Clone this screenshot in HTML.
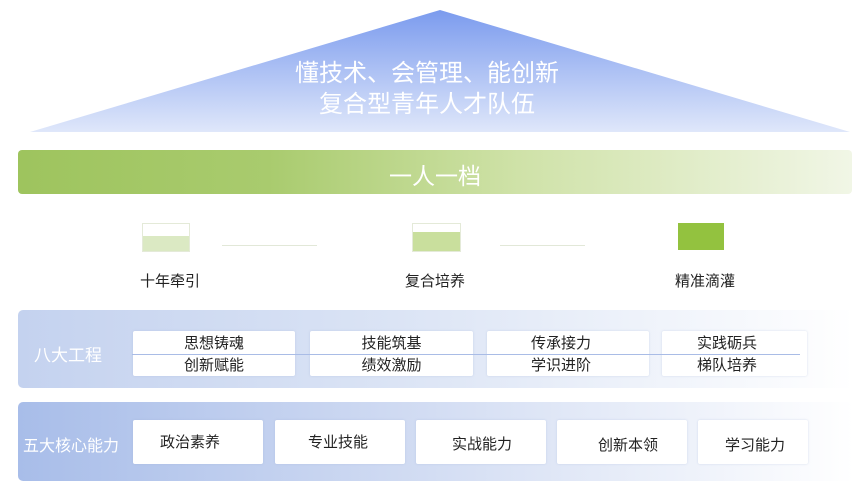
<!DOCTYPE html>
<html><head><meta charset="utf-8"><style>
body{margin:0;width:866px;height:492px;background:#fff;position:relative;overflow:hidden;font-family:"Liberation Sans","Noto Sans CJK SC",sans-serif}
.a{position:absolute}
.t{position:absolute;white-space:nowrap;text-align:center}
.box{position:absolute;background:#fff;border-radius:2px;box-shadow:0 0 2px rgba(150,170,210,.35)}
</style></head><body>
<svg class="a" style="left:0;top:0" width="866" height="140">
<defs><linearGradient id="g" x1="0" y1="0" x2="0" y2="1"><stop offset="0" stop-color="#7b9bee"/><stop offset="1" stop-color="#dfe7fa"/></linearGradient></defs>
<polygon points="440,10 850,132 30,132" fill="url(#g)"/>
</svg>
<div class="t" style="left:227px;width:400px;top:58px;font-size:24px;line-height:31px;color:#fff">懂技术、会管理、能创新<br>复合型青年人才队伍</div>
<div class="a" style="left:18px;top:150px;width:834px;height:44px;border-radius:4px;background:linear-gradient(90deg,#9ec45e 0%,#a9cb6e 30%,#cfe2a8 60%,#f1f6e6 100%)"></div>
<div class="t" style="left:18px;width:834px;top:157px;font-size:23px;color:#fff">一人一档</div>

<div class="a" style="left:142px;top:223px;width:46px;height:27px;background:linear-gradient(#fff 0,#fff 45%,#dbe9c3 45%);border:1px solid #e4ead8"></div>
<div class="a" style="left:412px;top:223px;width:47px;height:27px;background:linear-gradient(#fff 0,#fff 30%,#c9df9d 30%);border:1px solid #e4ead8"></div>
<div class="a" style="left:678px;top:223px;width:46px;height:27px;background:#93c23f"></div>
<div class="a" style="left:222px;top:245px;width:95px;height:1px;background:#e2e8d8"></div>
<div class="a" style="left:500px;top:245px;width:85px;height:1px;background:#e2e8d8"></div>
<div class="t" style="left:120px;width:100px;top:270px;font-size:15px;color:#222">十年牵引</div>
<div class="t" style="left:385px;width:100px;top:270px;font-size:15px;color:#222">复合培养</div>
<div class="t" style="left:655px;width:100px;top:270px;font-size:15px;color:#222">精准滴灌</div>

<div class="a" style="left:18px;top:310px;width:836px;height:78px;border-radius:5px;background:linear-gradient(90deg,#c4d2ef 0%,#dbe4f5 45%,#fff 100%)"></div>
<div class="t" style="left:28px;width:80px;top:341px;font-size:17px;color:#fff">八大工程</div>
<div class="box" style="left:133px;top:331px;width:162px;height:45px"></div>
<div class="box" style="left:310px;top:331px;width:163px;height:45px"></div>
<div class="box" style="left:487px;top:331px;width:162px;height:45px"></div>
<div class="box" style="left:662px;top:331px;width:145px;height:45px"></div>
<div class="a" style="left:132px;top:354px;width:668px;height:1px;background:#a9bce6"></div>
<div class="t" style="left:133px;width:162px;top:333px;font-size:15px;line-height:22px;color:#222">思想铸魂<br>创新赋能</div>
<div class="t" style="left:310px;width:163px;top:333px;font-size:15px;line-height:22px;color:#222">技能筑基<br>绩效激励</div>
<div class="t" style="left:480px;width:162px;top:333px;font-size:15px;line-height:22px;color:#222">传承接力<br>学识进阶</div>
<div class="t" style="left:662px;width:130px;top:333px;font-size:15px;line-height:22px;color:#222">实践砺兵<br>梯队培养</div>

<div class="a" style="left:18px;top:402px;width:836px;height:79px;border-radius:5px;background:linear-gradient(90deg,#a8bde9 0%,#cfdaf2 45%,#fff 100%)"></div>
<div class="t" style="left:10px;width:122px;top:432px;font-size:16px;color:#fff">五大核心能力</div>
<div class="box" style="left:133px;top:420px;width:130px;height:44px"></div>
<div class="box" style="left:275px;top:420px;width:130px;height:44px"></div>
<div class="box" style="left:416px;top:420px;width:130px;height:44px"></div>
<div class="box" style="left:557px;top:420px;width:130px;height:44px"></div>
<div class="box" style="left:698px;top:420px;width:110px;height:44px"></div>
<div class="t" style="left:140px;width:100px;top:431px;font-size:15px;color:#222">政治素养</div>
<div class="t" style="left:288px;width:100px;top:431px;font-size:15px;color:#222">专业技能</div>
<div class="t" style="left:432px;width:100px;top:433px;font-size:15px;color:#222">实战能力</div>
<div class="t" style="left:578px;width:100px;top:434px;font-size:15px;color:#222">创新本领</div>
<div class="t" style="left:705px;width:100px;top:434px;font-size:15px;color:#222">学习能力</div>
</body></html>
